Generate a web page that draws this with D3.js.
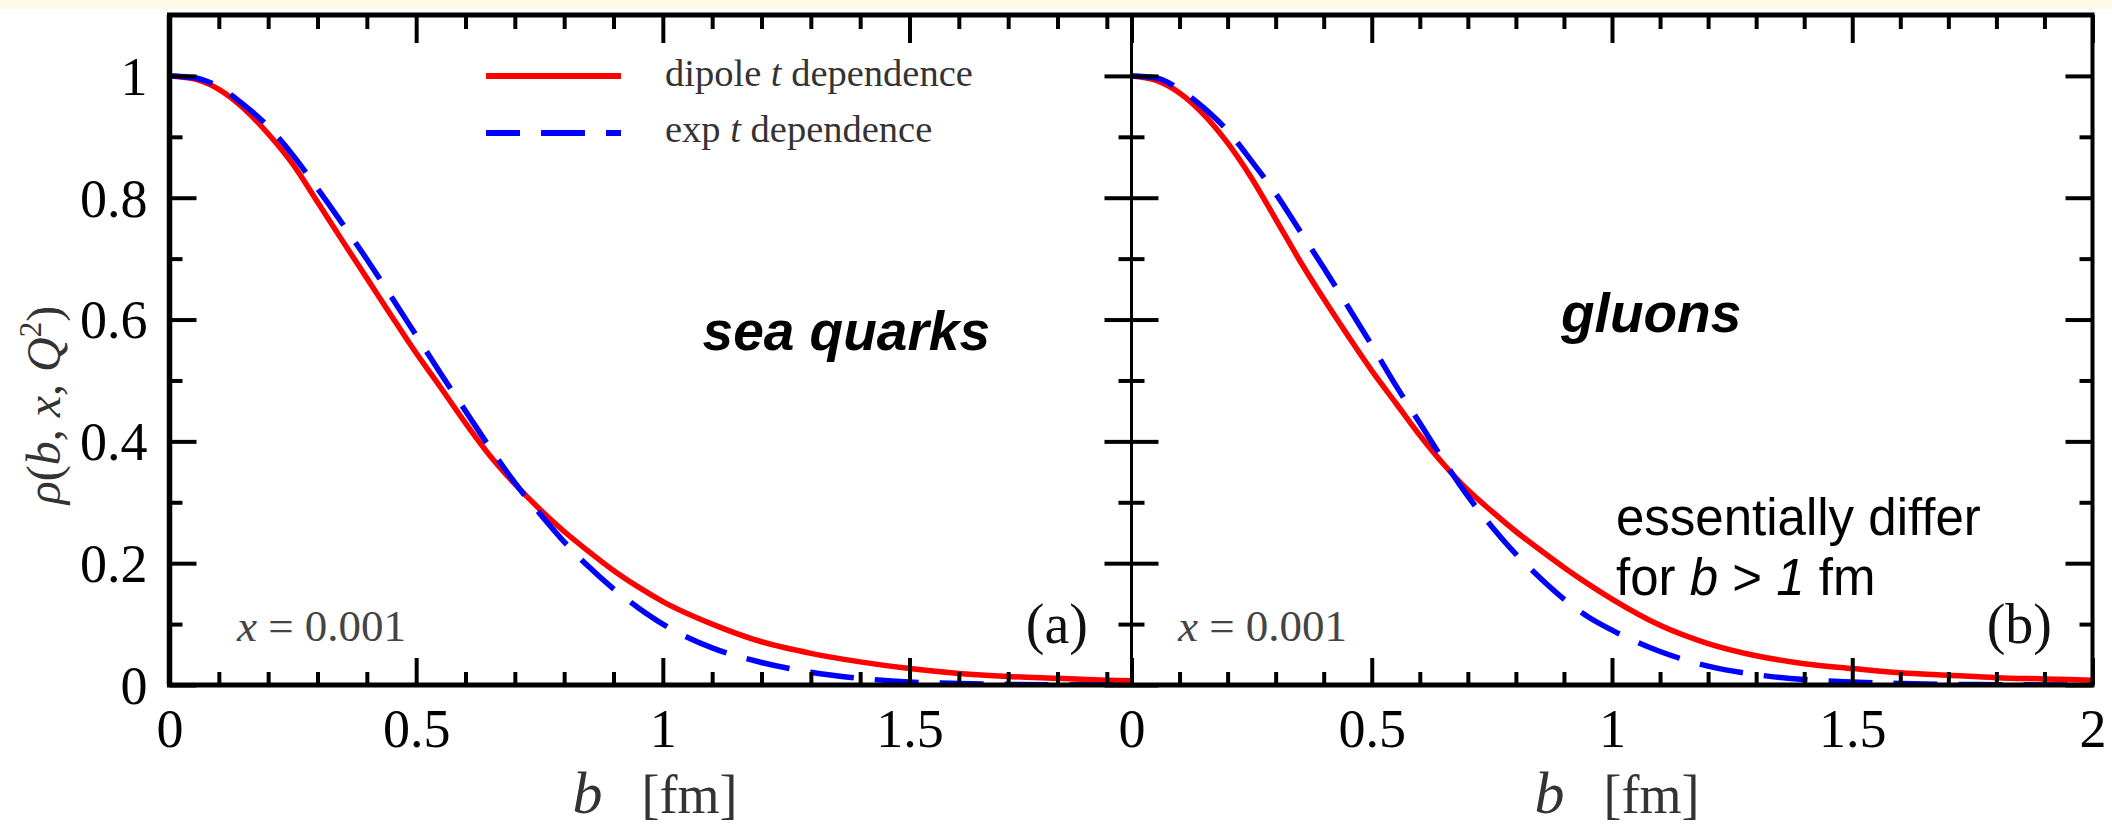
<!DOCTYPE html>
<html>
<head>
<meta charset="utf-8">
<script src="https://cdn.jsdelivr.net/npm/d3@7"></script>
<style>
  body { margin: 0; background: #ffffff; }
  svg { display: block; }
</style>
</head>
<body>
<svg id="chart" width="2112" height="833"></svg>
<script>
// Impact parameter b [fm] at which the profiles are sampled
const bGrid = [0, 0.05, 0.1, 0.15, 0.2, 0.25, 0.3, 0.35, 0.4, 0.45, 0.5, 0.55, 0.6, 0.65, 0.7,
               0.75, 0.8, 0.85, 0.9, 0.95, 1.0, 1.1, 1.2, 1.3, 1.4, 1.5, 1.6, 1.7, 1.8, 1.9, 2.0];

// rho(b, x, Q^2) for sea quarks, x = 0.001
const seaDipole = [1, 0.995, 0.978, 0.947, 0.905, 0.855, 0.793, 0.73, 0.668, 0.606, 0.545, 0.488, 0.43, 0.376, 0.33,
                   0.289, 0.252, 0.219, 0.188, 0.161, 0.137, 0.1, 0.071, 0.052, 0.038, 0.027, 0.019, 0.014, 0.011, 0.008, 0.006];
const seaExp    = [1, 0.997, 0.982, 0.953, 0.917, 0.87, 0.815, 0.758, 0.699, 0.637, 0.574, 0.511, 0.45, 0.389, 0.332,
                   0.282, 0.235, 0.194, 0.158, 0.127, 0.1, 0.061, 0.037, 0.021, 0.011, 0.005, 0.0025, 0.001, 0.0005, 0.0002, 0.0001];

// rho(b, x, Q^2) for gluons, x = 0.001
const gluonDipole = [1, 0.993, 0.972, 0.937, 0.89, 0.832, 0.765, 0.697, 0.634, 0.574, 0.516, 0.463, 0.41, 0.362, 0.32,
                     0.285, 0.252, 0.222, 0.193, 0.166, 0.141, 0.098, 0.068, 0.048, 0.035, 0.027, 0.02, 0.016, 0.012, 0.01, 0.008];
const gluonExp    = [1, 0.997, 0.978, 0.948, 0.91, 0.86, 0.807, 0.746, 0.685, 0.622, 0.558, 0.492, 0.43, 0.368, 0.31,
                     0.26, 0.215, 0.176, 0.141, 0.112, 0.09, 0.055, 0.031, 0.017, 0.009, 0.005, 0.0025, 0.001, 0.0005, 0.0002, 0.0001];

// Axis ticks
const xMajorA = [0, 0.5, 1, 1.5];
const xMajorB = [0, 0.5, 1, 1.5, 2];
const xMinor  = [0.1, 0.2, 0.3, 0.4, 0.6, 0.7, 0.8, 0.9, 1.1, 1.2, 1.3, 1.4, 1.6, 1.7, 1.8, 1.9];
const yMajor  = [0, 0.2, 0.4, 0.6, 0.8, 1];
const yMinor  = [0.1, 0.3, 0.5, 0.7, 0.9];

// Texts
const legendNames   = ["dipole", "exp"];
const panelTags     = ["(a)", "(b)"];
const partonNames   = ["sea quarks", "gluons"];
const xValueText    = "0.001";

const SERIF = "'Liberation Serif', 'DejaVu Serif', serif";
const SANS  = "'Liberation Sans', Arial, sans-serif";
const RED = "#ff0000", BLUE = "#0000ff";

const svg = d3.select("#chart");
svg.append("rect").attr("width", 2112).attr("height", 833).attr("fill", "#ffffff");
svg.append("rect").attr("width", 2112).attr("height", 9).attr("fill", "#fdfbe6");

const yTop = 15, yBottom = 685;
const y = d3.scaleLinear().domain([0, 1.1]).range([yBottom, yTop]);

const panels = [
  { x: d3.scaleLinear().domain([0, 1.95]).range([169.5, 1131.5]), dip: seaDipole, exp: seaExp,
    majors: xMajorA, tag: panelTags[0], tagX: 1088, parton: partonNames[0], xValueX: 237 },
  { x: d3.scaleLinear().domain([0, 2]).range([1131.5, 2092.5]), dip: gluonDipole, exp: gluonExp,
    majors: xMajorB, tag: panelTags[1], tagX: 2052, parton: partonNames[1], xValueX: 1178 }
];

const defs = svg.append("defs");

panels.forEach((p, i) => {
  const [x0, x1] = p.x.range();
  const clipId = "clip" + i;
  defs.append("clipPath").attr("id", clipId)
    .append("rect").attr("x", x0).attr("y", yTop - 10).attr("width", x1 - x0).attr("height", yBottom - yTop + 10);

  const line = d3.line()
    .x(d => p.x(d[0]))
    .y(d => y(d[1]))
    .curve(d3.curveMonotoneX);

  const g = svg.append("g").attr("clip-path", `url(#${clipId})`);
  g.append("path")
    .datum(bGrid.map((b, k) => [b, p.dip[k]]))
    .attr("d", line)
    .attr("fill", "none").attr("stroke", RED).attr("stroke-width", 5.5);
  g.append("path")
    .datum(bGrid.map((b, k) => [b, p.exp[k]]))
    .attr("d", line)
    .attr("fill", "none").attr("stroke", BLUE).attr("stroke-width", 5.5)
    .attr("stroke-dasharray", "44,21");
});

// Ticks (all pointing into the plotting area)
function styleTicks(sel, width) {
  sel.select(".domain").remove();
  sel.selectAll(".tick line").attr("stroke", "#000").attr("stroke-width", width);
}

panels.forEach((p, i) => {
  const [x0, x1] = p.x.range();

  // bottom, major with labels
  const bMaj = svg.append("g").attr("transform", `translate(0,${yBottom})`)
    .call(d3.axisBottom(p.x).tickValues(p.majors).tickSizeInner(-27).tickSizeOuter(0)
      .tickPadding(24).tickFormat(d3.format("")));
  styleTicks(bMaj, 4);
  bMaj.selectAll("text").attr("font-family", SERIF).attr("font-size", 54).attr("fill", "#000");

  const bMin = svg.append("g").attr("transform", `translate(0,${yBottom})`)
    .call(d3.axisBottom(p.x).tickValues(xMinor).tickSizeInner(-13).tickSizeOuter(0).tickFormat(""));
  styleTicks(bMin, 4);

  // top
  const tMaj = svg.append("g").attr("transform", `translate(0,${yTop})`)
    .call(d3.axisTop(p.x).tickValues(p.majors).tickSizeInner(-28).tickSizeOuter(0).tickFormat(""));
  styleTicks(tMaj, 4);
  const tMin = svg.append("g").attr("transform", `translate(0,${yTop})`)
    .call(d3.axisTop(p.x).tickValues(xMinor).tickSizeInner(-14).tickSizeOuter(0).tickFormat(""));
  styleTicks(tMin, 4);

  // left side of panel
  const lMaj = svg.append("g").attr("transform", `translate(${x0},0)`)
    .call(d3.axisLeft(y).tickValues(yMajor).tickSizeInner(-27).tickSizeOuter(0)
      .tickPadding(22).tickFormat(i === 0 ? d3.format("") : ""));
  styleTicks(lMaj, 4);
  lMaj.selectAll("text").attr("font-family", SERIF).attr("font-size", 54).attr("fill", "#000").attr("dy", "0.34em");
  const lMin = svg.append("g").attr("transform", `translate(${x0},0)`)
    .call(d3.axisLeft(y).tickValues(yMinor).tickSizeInner(-13).tickSizeOuter(0).tickFormat(""));
  styleTicks(lMin, 4);

  // right side of panel
  const rMaj = svg.append("g").attr("transform", `translate(${x1},0)`)
    .call(d3.axisRight(y).tickValues(yMajor).tickSizeInner(-27).tickSizeOuter(0).tickFormat(""));
  styleTicks(rMaj, 4);
  const rMin = svg.append("g").attr("transform", `translate(${x1},0)`)
    .call(d3.axisRight(y).tickValues(yMinor).tickSizeInner(-13).tickSizeOuter(0).tickFormat(""));
  styleTicks(rMin, 4);

  // x = 0.001
  const xt = svg.append("text")
    .attr("x", p.xValueX).attr("y", 641)
    .attr("font-family", SERIF).attr("font-size", 45).attr("fill", "#444");
  xt.append("tspan").attr("font-style", "italic").text("x");
  xt.append("tspan").text(" = " + xValueText);

  // panel tag
  svg.append("text").attr("x", p.tagX).attr("y", 643).attr("text-anchor", "end")
    .attr("font-family", SERIF).attr("font-size", 56).attr("fill", "#111").text(p.tag);

  // axis title
  svg.append("text").attr("x", x0 + 403).attr("y", 813)
    .attr("font-family", SERIF).attr("font-size", 60).attr("font-style", "italic").attr("fill", "#333").text("b");
  svg.append("text").attr("x", x0 + 472).attr("y", 813)
    .attr("font-family", SERIF).attr("font-size", 54).attr("fill", "#333").text("[fm]");
});

// Frame lines
const frame = svg.append("g").attr("stroke", "#000").attr("fill", "none");
frame.append("line").attr("x1", 167).attr("x2", 2094.5).attr("y1", yTop).attr("y2", yTop).attr("stroke-width", 5);
frame.append("line").attr("x1", 167).attr("x2", 2094.5).attr("y1", yBottom).attr("y2", yBottom).attr("stroke-width", 5);
frame.append("line").attr("x1", 169.5).attr("x2", 169.5).attr("y1", yTop).attr("y2", yBottom).attr("stroke-width", 5.5);
frame.append("line").attr("x1", 1131.5).attr("x2", 1131.5).attr("y1", yTop).attr("y2", yBottom).attr("stroke-width", 3);
frame.append("line").attr("x1", 2092.5).attr("x2", 2092.5).attr("y1", yTop).attr("y2", yBottom).attr("stroke-width", 4);

// y axis title
const yl = svg.append("text")
  .attr("transform", "translate(60,405) rotate(-90)")
  .attr("text-anchor", "middle")
  .attr("font-family", SERIF).attr("font-size", 48).attr("fill", "#333");
yl.append("tspan").attr("font-style", "italic").text("ρ");
yl.append("tspan").text("(");
yl.append("tspan").attr("font-style", "italic").text("b");
yl.append("tspan").text(", ");
yl.append("tspan").attr("font-style", "italic").text("x");
yl.append("tspan").text(", ");
yl.append("tspan").attr("font-style", "italic").text("Q");
yl.append("tspan").attr("dy", -19).attr("font-size", 31).text("2");
yl.append("tspan").attr("dy", 19).text(")");

// Legend
const legend = svg.append("g");
const legendRows = [
  { name: legendNames[0], color: RED, dash: null, ly: 76, ty: 86 },
  { name: legendNames[1], color: BLUE, dash: "44,21", ly: 133, ty: 142 }
];
legendRows.forEach(r => {
  legend.append("line").attr("x1", 486).attr("x2", 621).attr("y1", r.ly).attr("y2", r.ly)
    .attr("stroke", r.color).attr("stroke-width", 6)
    .attr("stroke-dasharray", r.dash).attr("stroke-dashoffset", r.dash ? 10 : null);
  const t = legend.append("text").attr("x", 665).attr("y", r.ty)
    .attr("font-family", SERIF).attr("font-size", 38.5).attr("fill", "#333");
  t.append("tspan").text(r.name + " ");
  t.append("tspan").attr("font-style", "italic").text("t");
  t.append("tspan").text(" dependence");
});

// Parton labels
svg.append("text").attr("x", 990).attr("y", 350).attr("text-anchor", "end")
  .attr("font-family", SANS).attr("font-size", 55).attr("font-weight", "bold").attr("font-style", "italic")
  .attr("fill", "#000").text(panels[0].parton);
svg.append("text").attr("x", 1561).attr("y", 332)
  .attr("font-family", SANS).attr("font-size", 55).attr("font-weight", "bold").attr("font-style", "italic")
  .attr("fill", "#000").text(panels[1].parton);

// Note on the large-b tail
const note = svg.append("text").attr("font-family", SANS).attr("font-size", 51).attr("fill", "#000");
note.append("tspan").attr("x", 1616).attr("y", 535).text("essentially differ");
const l2 = note.append("tspan").attr("x", 1616).attr("y", 595);
l2.text("for ");
note.append("tspan").attr("font-style", "italic").text("b");
note.append("tspan").text(" > ");
note.append("tspan").attr("font-style", "italic").text("1");
note.append("tspan").text(" fm");
</script>
</body>
</html>
